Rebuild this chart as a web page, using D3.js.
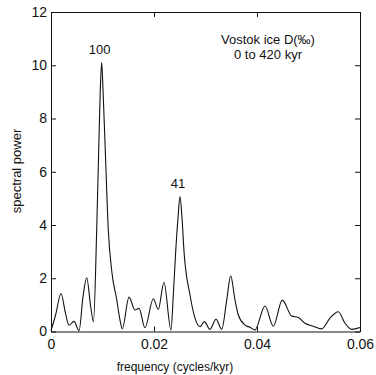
<!DOCTYPE html>
<html>
<head>
<meta charset="utf-8">
<script src="https://cdn.jsdelivr.net/npm/d3@7"></script>
<style>
  body { margin: 0; background: #fff; }
  svg { font-family: "Liberation Sans", Arial, sans-serif; }
  .tick text { font-size: 14px; fill: #111; }
</style>
</head>
<body>
<div id="chart"></div>
<script>
// frequency (cycles/kyr) and spectral power
const freq = [0, 0.00089, 0.00194, 0.0028, 0.0035, 0.00447, 0.00544, 0.00621, 0.00693, 0.00771,
  0.00825, 0.00887, 0.00926, 0.00957, 0.00984, 0.0101, 0.01054, 0.01113, 0.01184, 0.01276,
  0.0134, 0.01384, 0.01515, 0.01631, 0.01709, 0.01825, 0.01986, 0.02083, 0.02194, 0.0233,
  0.02375, 0.02421, 0.02466, 0.02505, 0.02544, 0.02583, 0.02699, 0.02796, 0.02893, 0.02977,
  0.03087, 0.03204, 0.03315, 0.03412, 0.03489, 0.03573, 0.03637, 0.03767, 0.03864, 0.03961,
  0.04155, 0.04317, 0.04491, 0.04674, 0.04802, 0.04932, 0.05093, 0.05256, 0.05417, 0.05578,
  0.05709, 0.05839, 0.06];
const power = [0.03, 0.62, 1.43, 0.7, 0.24, 0.38, 0.03, 1.3, 2.02, 0.93,
  0.37, 3.8, 6.8, 9.08, 10.1, 9.08, 6.8, 3.8, 2.2, 1.2,
  0.43, 0.1, 1.29, 0.81, 0.87, 0.14, 1.23, 0.83, 1.85, 0.05,
  1.37, 3.0, 4.26, 5.07, 4.26, 3.0, 1.37, 0.5, 0.18, 0.37,
  0.08, 0.46, 0.08, 1.18, 2.09, 1.18, 0.62, 0.24, 0.16, 0.06,
  0.96, 0.2, 1.18, 0.58, 0.53, 0.31, 0.2, 0.1, 0.5, 0.74,
  0.31, 0.08, 0.15];

const xTicks = [0, 0.02, 0.04, 0.06];
const xTickLabels = ["0", "0.02", "0.04", "0.06"];
const yTicks = [0, 2, 4, 6, 8, 10, 12];

// peak labels: period in kyr at the peak frequency/power
const peakLabels = ["100", "41"];
const peakFreq = [0.00984, 0.02505];
const peakPower = [10.1, 5.07];

const titleLines = ["Vostok ice D(\u2030)", "0 to 420 kyr"];

const width = 376, height = 375;
const margin = { top: 12, right: 16, bottom: 43.5, left: 51 };

const svg = d3.select("#chart").append("svg")
  .attr("width", width)
  .attr("height", height);

const x = d3.scaleLinear()
  .domain([0, 0.06])
  .range([margin.left, width - margin.right]);

const y = d3.scaleLinear()
  .domain([0, 12])
  .range([height - margin.bottom, margin.top]);

// axes, MATLAB style with inward ticks on all four sides
const xAxis = d3.axisBottom(x).tickValues(xTicks)
  .tickFormat((d, i) => xTickLabels[i])
  .tickSizeInner(-5).tickSizeOuter(0).tickPadding(8);
const yAxis = d3.axisLeft(y).tickValues(yTicks)
  .tickSizeInner(-5).tickSizeOuter(0).tickPadding(4);

svg.append("g")
  .attr("transform", `translate(0,${height - margin.bottom})`)
  .call(xAxis);
svg.append("g")
  .attr("transform", `translate(${margin.left},0)`)
  .call(yAxis);
svg.append("g")
  .attr("transform", `translate(0,${margin.top})`)
  .call(d3.axisTop(x).tickValues(xTicks).tickFormat("").tickSizeInner(-5).tickSizeOuter(0));
svg.append("g")
  .attr("transform", `translate(${width - margin.right},0)`)
  .call(d3.axisRight(y).tickValues(yTicks).tickFormat("").tickSizeInner(-5).tickSizeOuter(0));

svg.selectAll(".domain, .tick line").attr("stroke", "#111");

// spectrum
const line = d3.line()
  .x((d, i) => x(freq[i]))
  .y(d => y(d))
  .curve(d3.curveMonotoneX);

svg.append("path")
  .datum(power)
  .attr("fill", "none")
  .attr("stroke", "#111")
  .attr("stroke-width", 1.1)
  .attr("d", line);

// peak labels
svg.selectAll(".peak")
  .data(peakLabels)
  .join("text")
  .attr("class", "peak")
  .attr("x", (d, i) => x(peakFreq[i]) - 2)
  .attr("y", (d, i) => y(peakPower[i]) - 9)
  .attr("text-anchor", "middle")
  .attr("font-size", 13)
  .attr("fill", "#111")
  .text(d => d);

// title inside the plot
svg.append("text")
  .attr("x", 268)
  .attr("y", 44)
  .attr("text-anchor", "middle")
  .attr("font-size", 13)
  .attr("fill", "#111")
  .selectAll("tspan")
  .data(titleLines)
  .join("tspan")
  .attr("x", 268)
  .attr("dy", (d, i) => i === 0 ? 0 : 15)
  .text(d => d);

// axis titles
svg.append("text")
  .attr("x", 175)
  .attr("y", 371)
  .attr("text-anchor", "middle")
  .attr("font-size", 12)
  .attr("fill", "#111")
  .text("frequency (cycles/kyr)");

svg.append("text")
  .attr("transform", "translate(21,171) rotate(-90)")
  .attr("text-anchor", "middle")
  .attr("font-size", 13)
  .attr("fill", "#111")
  .text("spectral power");
</script>
</body>
</html>
